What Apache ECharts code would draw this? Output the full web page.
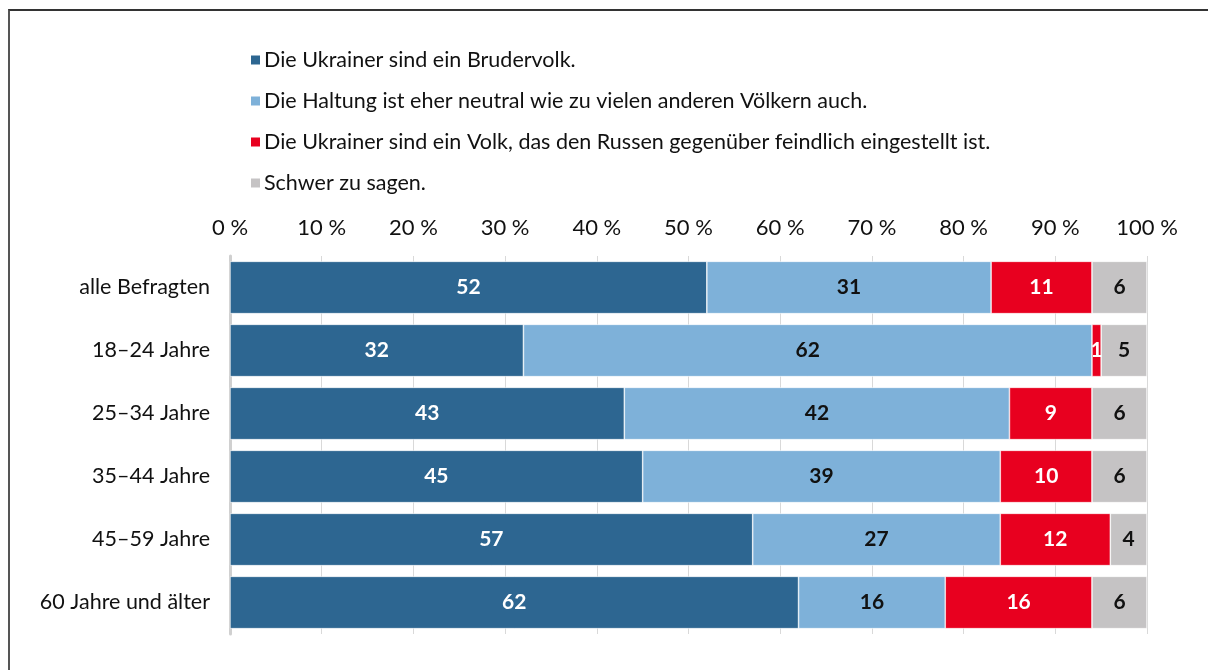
<!DOCTYPE html>
<html>
<head>
<meta charset="utf-8">
<script src="https://cdn.jsdelivr.net/npm/echarts@6/dist/echarts.min.js"></script>
<style>
  html, body { margin: 0; padding: 0; background: #fff; }
  #frame { position: absolute; left: 8px; top: 9px; width: 1200px; height: 661px;
           border-left: 2px solid #555; border-top: 2px solid #333; }
  #main { position: absolute; left: 0; top: 0; width: 1208px; height: 670px; }
</style>
</head>
<body>
<div id="frame"></div>
<div id="main"></div>
<script>
// Kategorien (von oben nach unten)
const categories = ['alle Befragten', '18–24 Jahre', '25–34 Jahre', '35–44 Jahre', '45–59 Jahre', '60 Jahre und älter'];
const seriesNames = [
  'Die Ukrainer sind ein Brudervolk.',
  'Die Haltung ist eher neutral wie zu vielen anderen Völkern auch.',
  'Die Ukrainer sind ein Volk, das den Russen gegenüber feindlich eingestellt ist.',
  'Schwer zu sagen.'
];
const brudervolk = [52, 32, 43, 45, 57, 62];
const neutral    = [31, 62, 42, 39, 27, 16];
const feindlich  = [11, 1, 9, 10, 12, 16];
const schwer     = [6, 5, 6, 6, 4, 6];

const colors = ['#2D6691', '#7EB1D9', '#E8001F', '#C5C3C4'];
const labelColors = ['#fff', '#111', '#fff', '#111'];
const values = [brudervolk, neutral, feindlich, schwer];

const chartDom = document.getElementById('main');
const myChart = echarts.init(chartDom);

const option = {
  textStyle: { fontFamily: 'Lato, "Open Sans", sans-serif' },
  legend: {
    orient: 'vertical',
    left: 244,
    top: 44,
    itemGap: 19,
    itemWidth: 11,
    itemHeight: 11,
    icon: 'rect',
    textStyle: { fontSize: 21.5, color: '#111', fontFamily: 'Lato', padding: [0, 0, 0, -2] },
    data: seriesNames
  },
  grid: { left: 230, right: 61, top: 256, bottom: 36 },
  xAxis: {
    type: 'value',
    position: 'top',
    min: 0,
    max: 100,
    interval: 10,
    axisLine: { show: false },
    axisTick: { show: false },
    axisLabel: { formatter: '{value} %', fontSize: 22, color: '#111', margin: 17, fontFamily: 'Lato' },
    splitLine: { lineStyle: { color: '#d9d9d9', width: 1 } }
  },
  yAxis: {
    type: 'category',
    inverse: true,
    data: categories,
    axisLine: { lineStyle: { color: '#d0d0d0', width: 3 } },
    axisTick: { show: false },
    axisLabel: { fontSize: 21.5, color: '#111', margin: 20, fontFamily: 'Lato' }
  },
  series: seriesNames.map((name, i) => ({
    name: name,
    type: 'bar',
    stack: 'total',
    barCategoryGap: '17%',
    data: values[i],
    itemStyle: { color: colors[i], borderColor: '#fff', borderWidth: 0.6 },
    label: {
      show: true,
      position: 'inside',
      color: labelColors[i],
      fontSize: 21,
      fontWeight: 'bold',
      fontFamily: 'Lato'
    }
  }))
};

option && myChart.setOption(option);
</script>
</body>
</html>
